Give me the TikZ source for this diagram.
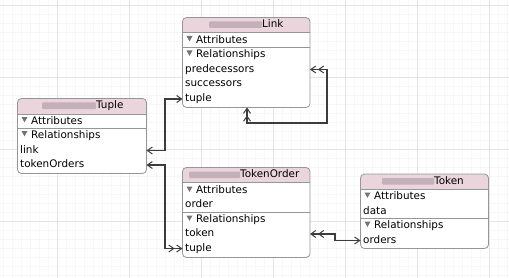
\documentclass[tikz,border=0pt]{standalone}
\usepackage{fontspec}
\setsansfont{DejaVu Sans}
\usetikzlibrary{arrows.meta,calc}
\definecolor{titlecolor}{RGB}{234,213,221}
\definecolor{framecolor}{RGB}{150,150,150}
\definecolor{relcolor}{RGB}{60,60,60}
\definecolor{blurcolor}{RGB}{196,176,185}
\tikzset{
  gridminor/.style={line width=0.4pt, black!3},
  gridmajor/.style={line width=0.5pt, black!10},
  entframe/.style={draw=framecolor, line width=0.8pt, rounded corners=4pt, inner sep=0pt, outer sep=0pt},
  sepln/.style={framecolor, line width=0.8pt},
  trigray/.style={black!55},
  rowtext/.style={anchor=west, inner sep=0pt, text height=8pt, text depth=2.5pt,
    font=\sffamily\fontsize{10.4}{12}\selectfont},
  relln/.style={relcolor, line width=1.2pt},
  relone/.tip={Straight Barb[length=5pt,width=7pt,line width=1pt]},
  relmany/.tip={Straight Barb[length=5pt,width=7pt,line width=1pt,sep=1.5pt] Straight Barb[length=5pt,width=7pt,line width=1pt]},
}
% box with pink title band and a section line
\newcommand{\entbox}[7]{%
  \begin{scope}
    \clip[rounded corners=4pt] (#2,#3) rectangle ++(#4,#5);
    \fill[white] (#2,#3) rectangle ++(#4,#5);
    \fill[titlecolor] (#2,#3) rectangle (#2+#4,#6);
  \end{scope}
  \draw[sepln] (#2,#6) -- (#2+#4,#6);
  \draw[sepln] (#2,#7) -- (#2+#4,#7);
  \node[entframe, minimum width=#4pt, minimum height=#5pt, anchor=north west] (#1) at (#2,#3) {};
}
% blurred prefix followed by the entity name
\newcommand{\enttitle}[5]{%
  \fill[blurcolor, rounded corners=1pt] (#2,#4-3.5) rectangle (#3,#4+3);
  \node[rowtext] (#1) at (#3,#4) {#5};
}
% section header with its small triangle
\newcommand{\secthead}[4]{%
  \fill[trigray] (#2+4,#3-4.5) -- (#2+10,#3-4.5) -- (#2+7,#3+0.8) -- cycle;
  \node[rowtext] (#1) at (#2+13.5,#3) {#4};
}

\begin{document}
\begin{tikzpicture}[x=1pt,y=-1pt]
  \useasboundingbox (0,0) rectangle (509,278);
  % Grid
  \foreach \gx in {3,12,...,507} \draw[gridminor] (\gx,0) -- (\gx,278);
  \foreach \gy in {5,14,...,275} \draw[gridminor] (0,\gy) -- (509,\gy);
  \foreach \gx in {57,129,...,489} \draw[gridmajor] (\gx,0) -- (\gx,278);
  \foreach \gy in {5,77,...,221} \draw[gridmajor] (0,\gy) -- (509,\gy);

  % Link
  \entbox{linkbox}{182.5}{17.5}{127.5}{90}{32.5}{47.5}
  \enttitle{link-title}{209}{262}{25}{Link}
  \secthead{link-attr}{182.5}{40.5}{Attributes}
  \secthead{link-rel}{182.5}{55}{Relationships}
  \node[rowtext] (link-predecessors) at (185,69.5) {predecessors};
  \node[rowtext] (link-successors) at (185,84) {successors};
  \node[rowtext] (link-tuple) at (185,99) {tuple};

  % Tuple
  \entbox{tuplebox}{17.5}{98.5}{129}{75}{114}{128.5}
  \enttitle{tuple-title}{42}{96}{106}{Tuple}
  \secthead{tuple-attr}{17.5}{121.5}{Attributes}
  \secthead{tuple-rel}{17.5}{135.5}{Relationships}
  \node[rowtext] (tuple-link) at (20,150.5) {link};
  \node[rowtext] (tuple-tokenOrders) at (20,165) {tokenOrders};

  % TokenOrder
  \entbox{orderbox}{182.5}{167.5}{127.5}{90}{182.5}{212.5}
  \enttitle{order-title}{189}{240}{175}{TokenOrder}
  \secthead{order-attr}{182.5}{191}{Attributes}
  \node[rowtext] (order-order) at (185,205) {order};
  \secthead{order-rel}{182.5}{220}{Relationships}
  \node[rowtext] (order-token) at (185,234) {token};
  \node[rowtext] (order-tuple) at (185,248.5) {tuple};

  % Token
  \entbox{tokenbox}{360.5}{174}{128}{74.5}{189.5}{218.5}
  \enttitle{token-title}{382}{434}{181.5}{Token}
  \secthead{token-attr}{360.5}{197}{Attributes}
  \node[rowtext] (token-data) at (363,211.5) {data};
  \secthead{token-rel}{360.5}{226}{Relationships}
  \node[rowtext] (token-orders) at (363,240.5) {orders};

  % Relationships
  \coordinate (busA) at (165,0);
  \coordinate (loopR) at (327,0);
  \coordinate (loopB) at (247,123);
  \coordinate (stepT) at (335,0);
  \draw[relln, {relone}-{relone}] (tuplebox.east |- tuple-link) -- (busA |- tuple-link)
    -- (busA |- link-tuple) -- (linkbox.west |- link-tuple);
  \draw[relln, {relone}-{relmany}] (tuplebox.east |- tuple-tokenOrders) -- (busA |- tuple-tokenOrders)
    -- (busA |- order-tuple) -- (orderbox.west |- order-tuple);
  \draw[relln, {relmany}-{relmany}] (linkbox.east |- link-predecessors) -- (loopR |- link-predecessors)
    -- (loopR |- loopB) -- (loopB) -- (loopB |- linkbox.south);
  \draw[relln, {relmany}-{relone}] (orderbox.east |- order-token) -- (stepT |- order-token)
    -- (stepT |- token-orders) -- (tokenbox.west |- token-orders);
\end{tikzpicture}
\end{document}
